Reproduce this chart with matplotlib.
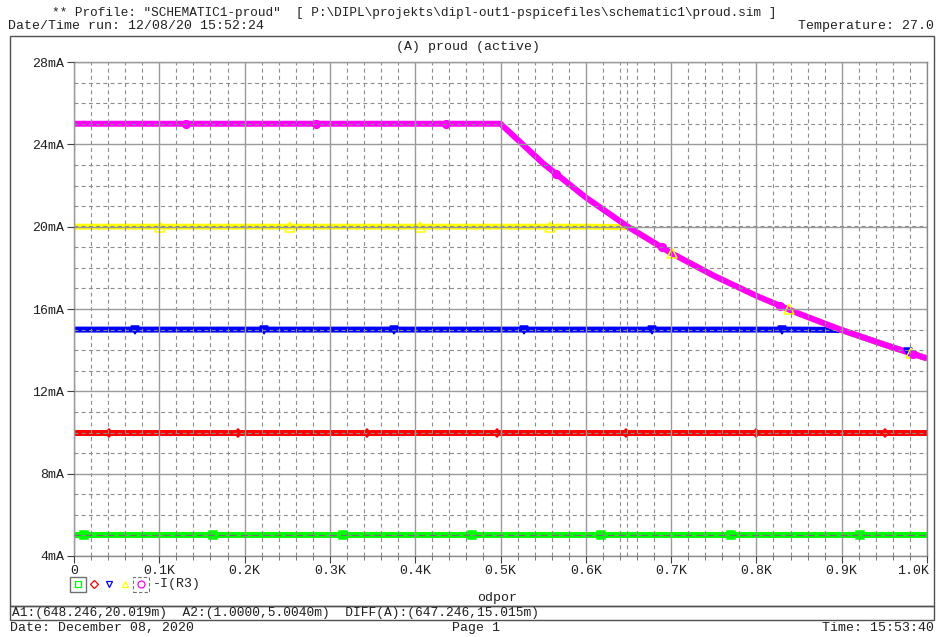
import numpy as np
import matplotlib
matplotlib.use("Agg")
import matplotlib.pyplot as plt
from matplotlib.lines import Line2D
from matplotlib.patches import Rectangle
from matplotlib.transforms import ScaledTranslation

# ---------------- data ----------------
res_k = [0.0, 0.50, 0.55, 0.60, 0.65, 0.70, 0.75, 0.80, 0.85, 0.90, 0.95, 1.00]
curve_ma = [25.0, 25.0, 23.07, 21.42, 19.98, 18.72, 17.62, 16.64, 15.77, 14.98, 14.27, 13.60]
levels_ma = [5, 10, 15, 20, 25]
colors = ["#00ff00", "#ff0000", "#0000ff", "#ffff00", "#ff00ff"]
markers = ["s", "D", "v", "^", "o"]
marker_x = [
    [0.012, 0.163, 0.315, 0.467, 0.618, 0.770, 0.922],
    [0.041, 0.192, 0.344, 0.496, 0.647, 0.799, 0.951],
    [0.072, 0.223, 0.375, 0.527, 0.678, 0.830, 0.978],
    [0.101, 0.253, 0.406, 0.558, 0.701, 0.838, 0.981],
    [0.131, 0.284, 0.436, 0.565, 0.689, 0.828, 0.984],
]
xtick_vals = [0.0, 0.1, 0.2, 0.3, 0.4, 0.5, 0.6, 0.7, 0.8, 0.9, 1.0]
xtick_labels = ["0", "0.1K", "0.2K", "0.3K", "0.4K", "0.5K", "0.6K", "0.7K", "0.8K", "0.9K", "1.0K"]
ytick_vals = [4, 8, 12, 16, 20, 24, 28]
ytick_labels = ["4mA", "8mA", "12mA", "16mA", "20mA", "24mA", "28mA"]
cursor_a1 = (0.648246, 20.019)
cursor_a2 = (1.0, 5.004)

FONT = "Liberation Mono"
TXT = "#202020"
FS = 9.5

W, H = 936, 637
fig = plt.figure(figsize=(W / 100, H / 100), dpi=100)

def fx(px):
    return px / W

def fy(py):
    return 1 - py / H

ax = fig.add_axes([fx(74), fy(556), fx(927 - 74), (556 - 62) / H])

res = np.array(res_k)
curve = np.array(curve_ma)
for lvl, c in zip(levels_ma, colors):
    y = np.minimum(lvl, curve)
    ax.plot(res, y, color=c, lw=4.3, solid_capstyle="butt", zorder=2)
for lvl, c, m, mx in zip(levels_ma, colors, markers, marker_x):
    y = np.minimum(lvl, curve)
    my = np.interp(mx, res, y)
    face = "none" if m == "^" else c
    size = {"s": 6, "D": 4.5, "v": 5.5, "^": 6.5, "o": 5.5}[m]
    ax.plot(mx, my, ls="none", marker=m, ms=size,
            mfc=face, mec=c, mew=1.1, zorder=2.2)

ax.set_xlim(0, 1.0)
ax.set_ylim(4, 28)
ax.set_xticks(xtick_vals)
ax.set_xticklabels(xtick_labels)
ax.set_xticks(np.arange(0, 1.0001, 0.02), minor=True)
ax.set_yticks(ytick_vals)
ax.set_yticklabels(ytick_labels)
ax.set_yticks(np.arange(4, 28.001, 1), minor=True)
ax.tick_params(axis="both", which="major", labelsize=FS, colors="#404040",
               labelcolor=TXT, length=5, width=0.8, direction="out")
ax.tick_params(axis="x", which="major", pad=1.5)
ax.tick_params(axis="y", which="major", pad=2)
ax.tick_params(axis="x", which="minor", length=3, width=0.6, colors="#606060")
ax.tick_params(axis="y", which="minor", length=0)
for lab in ax.get_xticklabels() + ax.get_yticklabels():
    lab.set_fontfamily(FONT)
# last x label is pushed inside the frame, as in the reference
last = ax.get_xticklabels()[-1]
last.set_horizontalalignment("right")
last.set_transform(last.get_transform() + ScaledTranslation(2 / 100, 0, fig.dpi_scale_trans))

ax.set_axisbelow(False)
ax.grid(which="major", color="#9a9a9a", lw=1.0, ls="-", zorder=2.5)
ax.grid(which="minor", color="#8c8c8c", lw=0.8, ls=(0, (3.5, 3)), zorder=2.5)
for s in ax.spines.values():
    s.set_color("#8a8a8a")
    s.set_linewidth(1.0)

# cursor lines
ax.axvline(cursor_a1[0], color="#8c8c8c", lw=0.8, ls=(0, (3.5, 3)), zorder=2.6)
ax.axhline(cursor_a1[1], color="#8c8c8c", lw=0.8, ls=(0, (3.5, 3)), zorder=2.6)
ax.axhline(cursor_a2[1], color="#707070", lw=0.8, ls=(0, (6, 4)), zorder=2.6)

# ---------------- frame boxes ----------------
fig.add_artist(Rectangle((fx(10), fy(606)), fx(934 - 10), (606 - 36) / H,
                         transform=fig.transFigure, fill=False, ec="#505050", lw=1.0))
fig.add_artist(Rectangle((fx(10), fy(620)), fx(934 - 10), (620 - 606) / H,
                         transform=fig.transFigure, fill=False, ec="#505050", lw=1.0))

# ---------------- texts ----------------
def t(x, y, s, ha="left", fs=FS):
    fig.text(fx(x), fy(y), s, ha=ha, va="center", fontsize=fs, family=FONT, color=TXT)

t(52, 13, '** Profile: "SCHEMATIC1-proud"  [ P:\\DIPL\\projekts\\dipl-out1-pspicefiles\\schematic1\\proud.sim ]', fs=9.15)
t(8, 26, "Date/Time run: 12/08/20 15:52:24")
t(934, 26, "Temperature: 27.0", ha="right")
t(468, 47, "(A) proud (active)", ha="center")
t(497, 598, "odpor", ha="center")
t(12, 613, "A1:(648.246,20.019m)  A2:(1.0000,5.0040m)  DIFF(A):(647.246,15.015m)", fs=9.3)
t(10, 628, "Date: December 08, 2020")
t(476, 628, "Page 1", ha="center")
t(934, 628, "Time: 15:53:40", ha="right")

# ---------------- legend ----------------
leg_x = [78, 94, 109, 125, 141]
for px, c, m in zip(leg_x, colors, markers):
    fig.add_artist(Line2D([fx(px)], [fy(584)], transform=fig.transFigure, ls="none",
                          marker=m, ms=5 if m != "D" else 4, mfc="none", mec=c, mew=0.9))
fig.add_artist(Rectangle((fx(70), fy(592)), fx(16), 15 / H, transform=fig.transFigure,
                         fill=False, ec="#707070", lw=1.0))
fig.add_artist(Rectangle((fx(133), fy(592)), fx(16), 15 / H, transform=fig.transFigure,
                         fill=False, ec="#707070", lw=0.8, ls=(0, (3, 2))))
t(153, 584, "-I(R3)")

fig.savefig("out.png", dpi=100)
